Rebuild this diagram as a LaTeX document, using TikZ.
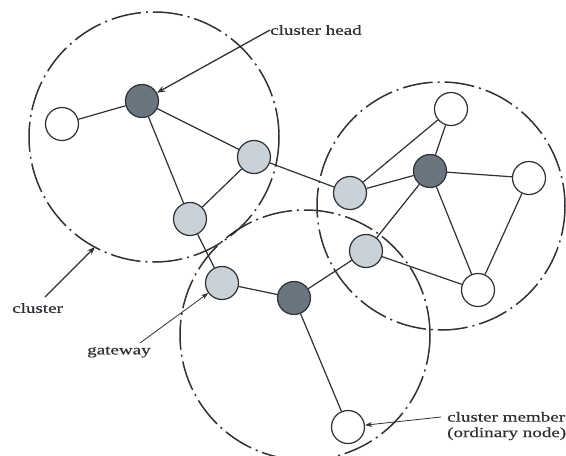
\documentclass[tikz,border=0pt]{standalone}
\usepackage{fontspec}
\setmainfont[FakeStretch=1.36,FakeBold=0.6]{Liberation Serif}
\usetikzlibrary{arrows.meta}
\definecolor{ink}{HTML}{2E3236}
\definecolor{darkfill}{HTML}{6A7580}
\definecolor{lightfill}{HTML}{C9D1D9}
\tikzset{
  clusterring/.style={draw=ink, line width=1.5pt, dash pattern=on 30pt off 5pt on 2pt off 5pt},
  nd/.style={circle, draw=ink, line width=1.2pt, minimum size=33pt, inner sep=0pt},
  headnode/.style={nd, fill=darkfill},
  gwnode/.style={nd, fill=lightfill},
  memnode/.style={nd, fill=white},
  link/.style={draw=ink, line width=1.2pt},
  lbl/.style={font=\fontsize{14}{15.5}\selectfont, text=ink, inner sep=0pt},
  pointer/.style={draw=ink, line width=1.3pt, -{Stealth[length=8pt,width=6pt]}},
  thinpointer/.style={draw=ink, line width=0.8pt, -{Stealth[length=7pt,width=5pt]}}
}
\begin{document}
\begin{tikzpicture}[x=1pt,y=-1pt]
\useasboundingbox[fill=white] (0,0) rectangle (566,456);
% clusters
\draw[clusterring] (154,137) circle (125);
\draw[clusterring] (441,206) circle (124);
\draw[clusterring] (305,335) circle (125);
% nodes
\node[memnode]  (w1) at (62,124) {};
\node[headnode] (h1) at (142,101) {};
\node[gwnode]   (a)  at (254,157) {};
\node[gwnode]   (b)  at (190,219) {};
\node[gwnode]   (c)  at (222,283) {};
\node[headnode] (h2) at (294,298) {};
\node[gwnode]   (d)  at (350,193) {};
\node[headnode] (h3) at (430,171) {};
\node[memnode]  (wt) at (451,109) {};
\node[memnode]  (wr) at (529,178) {};
\node[gwnode]   (e)  at (366,251) {};
\node[memnode]  (wbr) at (478,290) {};
\node[memnode]  (wb) at (348,427) {};
% links
\draw[link] (w1) -- (h1);
\draw[link] (h1) -- (a);
\draw[link] (h1) -- (b);
\draw[link] (a) -- (b);
\draw[link] (a) -- (d);
\draw[link] (b) -- (c);
\draw[link] (c) -- (h2);
\draw[link] (h2) -- (e);
\draw[link] (h2) -- (wb);
\draw[link] (d) -- (h3);
\draw[link] (d) -- (wt);
\draw[link] (wt) -- (h3);
\draw[link] (h3) -- (wr);
\draw[link] (h3) -- (e);
\draw[link] (h3) -- (wbr);
\draw[link] (wr) -- (wbr);
\draw[link] (e) -- (wbr);
% labels
\node[lbl, anchor=west] (lhead) at (270,30) {cluster head};
\node[lbl, anchor=west] (lclus) at (12,308) {cluster};
\node[lbl, anchor=west] (lgw) at (87,352) {gateway};
\node[lbl, anchor=west, align=left] (lmem) at (447,426) {cluster member\\(ordinary node)};
\coordinate (ringpt) at (95,247);
\draw[pointer] (lhead.west) -- (h1);
\draw[pointer] (45,297) -- (ringpt);
\draw[thinpointer] (140,343) -- (c);
\draw[thinpointer] (441,417) -- (wb);
\end{tikzpicture}
\end{document}
